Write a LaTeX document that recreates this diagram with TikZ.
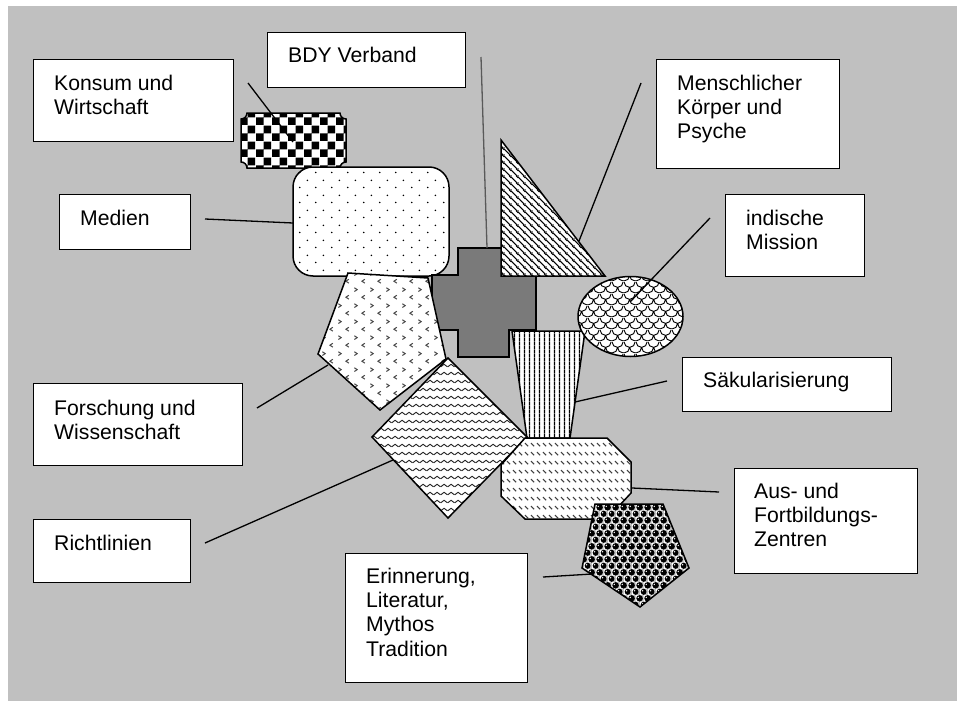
\documentclass[tikz,border=0pt]{standalone}
\usepackage{fontspec}
\setmainfont{Liberation Sans}
\usetikzlibrary{patterns}
\definecolor{bggray}{HTML}{C0C0C0}
\newcommand{\stackl}[1]{\vtop{\baselineskip=24.4pt\halign{##\hfil\cr#1\crcr}}}

\pgfdeclarepatternformonly{checkerA}{\pgfqpoint{0pt}{0pt}}{\pgfqpoint{16pt}{16pt}}{\pgfqpoint{16pt}{16pt}}{%
 \pgfpathrectangle{\pgfqpoint{0pt}{0pt}}{\pgfqpoint{8pt}{8pt}}%
 \pgfpathrectangle{\pgfqpoint{8pt}{8pt}}{\pgfqpoint{8pt}{8pt}}%
 \pgfusepath{fill}}
\pgfdeclarepatternformonly{dotsA}{\pgfqpoint{0pt}{0pt}}{\pgfqpoint{15.6pt}{15pt}}{\pgfqpoint{15.6pt}{15pt}}{%
 \pgfpathcircle{\pgfqpoint{3.9pt}{3.75pt}}{0.9pt}%
 \pgfpathcircle{\pgfqpoint{11.7pt}{11.25pt}}{0.9pt}%
 \pgfusepath{fill}}
\pgfdeclarepatternformonly{chevA}{\pgfqpoint{0pt}{0pt}}{\pgfqpoint{16pt}{16pt}}{\pgfqpoint{16pt}{16pt}}{%
 \pgfsetlinewidth{1.1pt}%
 \pgfpathmoveto{\pgfqpoint{2.5pt}{14pt}}\pgfpathlineto{\pgfqpoint{5.5pt}{12pt}}\pgfpathlineto{\pgfqpoint{2.5pt}{10pt}}%
 \pgfpathmoveto{\pgfqpoint{13.5pt}{6pt}}\pgfpathlineto{\pgfqpoint{10.5pt}{4pt}}\pgfpathlineto{\pgfqpoint{13.5pt}{2pt}}%
 \pgfusepath{stroke}}
\pgfdeclarepatternformonly{nwA}{\pgfqpoint{0pt}{0pt}}{\pgfqpoint{7pt}{7pt}}{\pgfqpoint{7pt}{7pt}}{%
 \pgfsetlinewidth{1.3pt}%
 \pgfpathmoveto{\pgfqpoint{-1pt}{8pt}}\pgfpathlineto{\pgfqpoint{8pt}{-1pt}}%
 \pgfpathmoveto{\pgfqpoint{-1pt}{1pt}}\pgfpathlineto{\pgfqpoint{1pt}{-1pt}}%
 \pgfpathmoveto{\pgfqpoint{6pt}{8pt}}\pgfpathlineto{\pgfqpoint{8pt}{6pt}}%
 \pgfusepath{stroke}}
\pgfdeclarepatternformonly{vlinesA}{\pgfqpoint{0pt}{0pt}}{\pgfqpoint{5.4pt}{4pt}}{\pgfqpoint{5.4pt}{4pt}}{%
 \pgfsetlinewidth{1.3pt}%
 \pgfpathmoveto{\pgfqpoint{2.7pt}{-0.5pt}}\pgfpathlineto{\pgfqpoint{2.7pt}{4.5pt}}%
 \pgfusepath{stroke}}
\pgfdeclarepatternformonly{scalesA}{\pgfqpoint{0pt}{0pt}}{\pgfqpoint{12pt}{12pt}}{\pgfqpoint{12pt}{12pt}}{%
 \pgfsetlinewidth{1pt}%
 \pgfpathmoveto{\pgfqpoint{0pt}{12pt}}\pgfpatharc{180}{360}{6pt}%
 \pgfpathmoveto{\pgfqpoint{-6pt}{6pt}}\pgfpatharc{180}{360}{6pt}%
 \pgfpathmoveto{\pgfqpoint{6pt}{6pt}}\pgfpatharc{180}{360}{6pt}%
 \pgfusepath{stroke}}
\pgfdeclarepatternformonly{wavesA}{\pgfqpoint{0pt}{0pt}}{\pgfqpoint{7pt}{7.5pt}}{\pgfqpoint{7pt}{7.5pt}}{%
 \pgfsetlinewidth{1pt}%
 \pgfpathmoveto{\pgfqpoint{-0.5pt}{2.1pt}}\pgfpathlineto{\pgfqpoint{0pt}{2.5pt}}\pgfpathlineto{\pgfqpoint{3.5pt}{5pt}}\pgfpathlineto{\pgfqpoint{7pt}{2.5pt}}\pgfpathlineto{\pgfqpoint{7.5pt}{2.9pt}}%
 \pgfusepath{stroke}}
\pgfdeclarepatternformonly{dashA}{\pgfqpoint{0pt}{0pt}}{\pgfqpoint{5.5pt}{9pt}}{\pgfqpoint{5.5pt}{9pt}}{%
 \pgfsetlinewidth{1.2pt}%
 \pgfpathmoveto{\pgfqpoint{1pt}{6.5pt}}\pgfpathlineto{\pgfqpoint{4.5pt}{3pt}}%
 \pgfusepath{stroke}}
\pgfdeclarepatterninherentlycolored{ballsA}{\pgfqpoint{0pt}{0pt}}{\pgfqpoint{8pt}{13.4pt}}{\pgfqpoint{8pt}{13.4pt}}{%
 \pgfsetfillcolor{black!25}%
 \pgfpathrectangle{\pgfqpoint{0pt}{0pt}}{\pgfqpoint{8pt}{13.4pt}}%
 \pgfusepath{fill}%
 \pgfsetfillcolor{white}%
 \pgfpathrectangle{\pgfqpoint{0pt}{0pt}}{\pgfqpoint{4pt}{6.7pt}}%
 \pgfpathrectangle{\pgfqpoint{4pt}{6.7pt}}{\pgfqpoint{4pt}{6.7pt}}%
 \pgfusepath{fill}%
 \pgfsetfillcolor{black}%
 \pgfpathcircle{\pgfqpoint{4pt}{3.35pt}}{3.2pt}%
 \pgfpathcircle{\pgfqpoint{0pt}{10.05pt}}{3.2pt}%
 \pgfpathcircle{\pgfqpoint{8pt}{10.05pt}}{3.2pt}%
 \pgfusepath{fill}%
 \pgfsetfillcolor{white}%
 \pgfpathcircle{\pgfqpoint{3pt}{4.4pt}}{0.8pt}%
 \pgfpathcircle{\pgfqpoint{7pt}{11.1pt}}{0.8pt}%
 \pgfpathcircle{\pgfqpoint{-1pt}{11.1pt}}{0.8pt}%
 \pgfusepath{fill}}

\tikzset{
  lbox/.style={draw, line width=1.3pt, fill=white, inner sep=0pt, anchor=north west},
  ltxt/.style={anchor=base west, inner sep=0pt, font=\fontsize{21.2}{24.4}\selectfont},
  shp/.style={draw, line width=1.5pt, line join=miter, preaction={fill=white}},
  conn/.style={line width=1.3pt}
}

\begin{document}
\begin{tikzpicture}[x=1pt,y=-1pt]
\useasboundingbox (0,0) rectangle (957,701);
\fill[bggray] (8,6) rectangle (957,701);

% label boxes
\node[lbox, minimum width=200pt, minimum height=82pt] (konsum) at (33,59) {};
\node[lbox, minimum width=198pt, minimum height=55pt] (bdy) at (267,32) {};
\node[lbox, minimum width=131pt, minimum height=55pt] (medien) at (59,194) {};
\node[lbox, minimum width=183pt, minimum height=109pt] (mensch) at (656,59) {};
\node[lbox, minimum width=139pt, minimum height=82pt] (indisch) at (725,194) {};
\node[lbox, minimum width=209pt, minimum height=82pt] (forsch) at (33,383) {};
\node[lbox, minimum width=157pt, minimum height=63pt] (richt) at (33,519) {};
\node[lbox, minimum width=182pt, minimum height=129pt] (erinn) at (345,553) {};
\node[lbox, minimum width=209pt, minimum height=54pt] (saek) at (682,357) {};
\node[lbox, minimum width=183pt, minimum height=105pt] (aus) at (734,468) {};

\node[ltxt] (konsumT) at (54,90) {\stackl{Konsum und\cr Wirtschaft}};
\node[ltxt] (bdyT) at (288,62.7) {BDY Verband};
\node[ltxt] (medienT) at (80,225) {Medien};
\node[ltxt] (menschT) at (677,90) {\stackl{Menschlicher\cr Körper und\cr Psyche}};
\node[ltxt] (indischT) at (746,225) {\stackl{indische\cr Mission}};
\node[ltxt] (forschT) at (54,415) {\stackl{Forschung und\cr Wissenschaft}};
\node[ltxt] (richtT) at (54,550) {Richtlinien};
\node[ltxt] (erinnT) at (366,583) {\stackl{Erinnerung,\cr Literatur,\cr Mythos\cr Tradition}};
\node[ltxt] (saekT) at (703,387) {Säkularisierung};
\node[ltxt] (ausT) at (754,498) {\stackl{Aus- und\cr Fortbildungs-\cr Zentren}};

% shapes
\path[shp, pattern=checkerA] (247,113) -- (340,113) .. controls (340,116.3) and (342.7,119) .. (346,119)
  -- (346,162) .. controls (342.7,162) and (340,164.7) .. (340,168) -- (247,168)
  .. controls (247,164.7) and (244.3,162) .. (241,162) -- (241,119)
  .. controls (244.3,119) and (247,116.3) .. (247,113) -- cycle;
\path[shp, rounded corners=20pt, pattern=dotsA] (293,167) rectangle (449,276);
\path[draw, line width=1.5pt, fill=black!52] (458,248) -- (509,248) -- (509,275) -- (536,275) -- (536,330) -- (509,330)
  -- (509,357) -- (458,357) -- (458,330) -- (432,330) -- (432,275) -- (458,275) -- cycle;
\path[shp, pattern=nwA] (501,140) -- (605,276) -- (501,276) -- cycle;
\path[shp, pattern=chevA, pattern color=black!70] (348,273) -- (428,278) -- (446,359) -- (380,410) -- (318,354) -- cycle;
\path[shp, pattern=vlinesA] (512,331) -- (585,331) -- (570,438) -- (527,438) -- cycle;
\path[shp, pattern=scalesA] (630.5,316.5) ellipse [x radius=52.5pt, y radius=40pt];
\path[shp, pattern=wavesA, pattern color=black!85] (448,358) -- (527,437) -- (448,518) -- (372,437) -- cycle;
\path[shp, pattern=dashA, pattern color=black!75] (525,438) -- (607,438) -- (631,462) -- (631,493) -- (607,519)
  -- (525,519) -- (501,496) -- (501,465) -- cycle;
\path[shp, pattern=ballsA] (595,504) -- (663,504) -- (689,568) -- (640,607) -- (582,568) -- cycle;

% connector end points
\coordinate (c1a) at (248,83);  \coordinate (c1b) at (293,142);
\coordinate (c2a) at (481,57);  \coordinate (c2b) at (487,248);
\coordinate (c3a) at (205,219); \coordinate (c3b) at (293,223);
\coordinate (c4a) at (641,83);  \coordinate (c4b) at (579,241);
\coordinate (c5a) at (710,218); \coordinate (c5b) at (630,302);
\coordinate (c6a) at (257,408); \coordinate (c6b) at (328,365);
\coordinate (c7a) at (205,543); \coordinate (c7b) at (393,460);
\coordinate (c8a) at (667,381); \coordinate (c8b) at (575,402);
\coordinate (c9a) at (719,492); \coordinate (c9b) at (632,488);
\coordinate (c10a) at (543,577); \coordinate (c10b) at (592,574);

\draw[conn] (c1a) -- (c1b);
\draw[conn, black!65] (c2a) -- (c2b);
\draw[conn] (c3a) -- (c3b);
\draw[conn] (c4a) -- (c4b);
\draw[conn] (c5a) -- (c5b);
\draw[conn] (c6a) -- (c6b);
\draw[conn] (c7a) -- (c7b);
\draw[conn] (c8a) -- (c8b);
\draw[conn] (c9a) -- (c9b);
\draw[conn] (c10a) -- (c10b);
\end{tikzpicture}
\end{document}
